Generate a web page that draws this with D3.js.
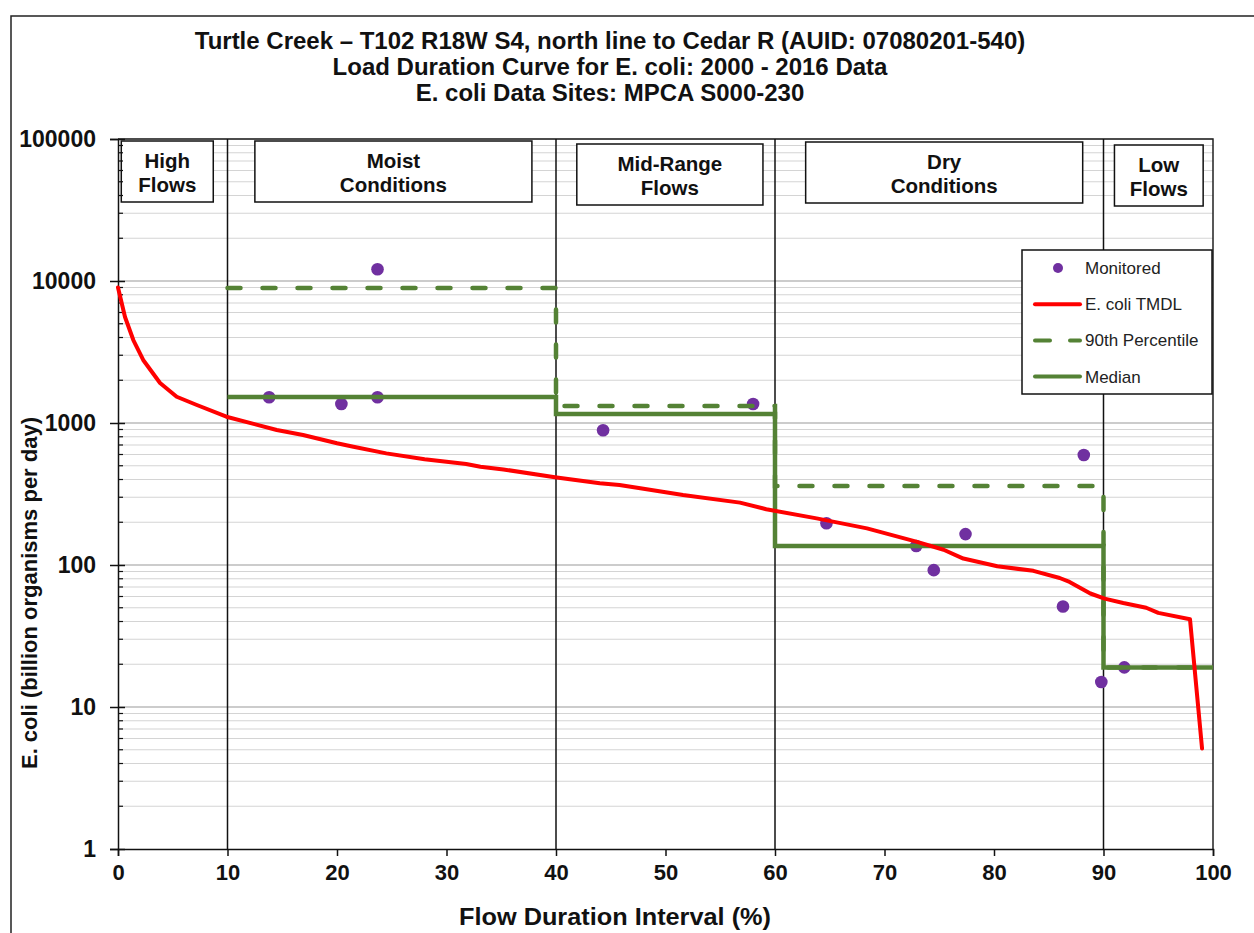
<!DOCTYPE html>
<html>
<head>
<meta charset="utf-8">
<script src="https://cdn.jsdelivr.net/npm/d3@7"></script>
<style>
  body { margin: 0; background: #fff; }
  svg { display: block; font-family: "Liberation Sans", Arial, sans-serif; }
</style>
</head>
<body>
<div id="chart"></div>
<script>
// chart text
const titleLines = [
  'Turtle Creek \u2013 T102 R18W S4, north line to Cedar R (AUID: 07080201-540)',
  'Load Duration Curve for E. coli: 2000 - 2016 Data',
  'E. coli Data Sites: MPCA S000-230'
];
const xLabel = 'Flow Duration Interval (%)';
const yLabel = 'E. coli (billion organisms per day)';
const xTickValues = [0, 10, 20, 30, 40, 50, 60, 70, 80, 90, 100];
const yTickValues = [1, 10, 100, 1000, 10000, 100000];

// flow zones
const zoneBreaks = [10, 40, 60, 90];
const zoneNames = [['High', 'Flows'], ['Moist', 'Conditions'], ['Mid-Range', 'Flows'], ['Dry', 'Conditions'], ['Low', 'Flows']];

// monitored samples
const monitoredX = [13.8, 20.4, 23.7, 23.7, 44.3, 58.0, 64.7, 72.9, 74.5, 77.4, 86.3, 88.2, 89.8, 91.9];
const monitoredY = [1520, 1360, 12100, 1520, 890, 1360, 197, 136, 92, 165, 51, 595, 15, 19];

// TMDL curve
const tmdlX = [0, 0.64, 1.4, 2.3, 3.84, 5.36, 7.2, 9.9, 14.5, 16.9, 20, 21.5, 24.5, 28, 31.8, 33.1, 35.2, 39.9,
  44.0, 45.8, 47.7, 51.6, 56.8, 59.2, 63.8, 68.4, 72.9, 75.4, 77.2, 80.3, 83.6, 86.0, 86.9, 88.8, 90.1, 91.8,
  93.9, 95.0, 97.9, 99.0];
const tmdlY = [9000, 5575, 3840, 2780, 1914, 1531, 1339, 1107, 893, 823, 720, 681, 611, 556, 514, 492, 471, 415,
  376, 366, 347, 311, 275, 247, 213, 181, 146, 128, 111, 98, 91, 81, 76, 63, 58, 54,
  50, 46, 41.5, 5.1];

// zone statistics (zones from 10 to 100)
const statStart = [10, 40, 60, 90, 100];
const pct90Values = [8930, 1318, 360, 19, 19];
const medianValues = [1524, 1157, 136, 19, 19];

const W = 1254, H = 933;
const margin = { top: 139, right: 41, bottom: 84, left: 118 };
const green = '#548235', purple = '#7030A0', red = '#FF0000';

const svg = d3.select('#chart').append('svg')
  .attr('width', W)
  .attr('height', H);

// outer chart frame
svg.append('rect')
  .attr('x', 11).attr('y', 16)
  .attr('width', W + 20).attr('height', H + 20)
  .attr('fill', '#fff')
  .attr('stroke', '#222')
  .attr('stroke-width', 1.5);

const x = d3.scaleLinear().domain([0, 100]).range([margin.left, W - margin.right]);
const y = d3.scaleLog().domain([1, 100000]).range([H - margin.bottom, margin.top]);

// title
svg.append('g').selectAll('text')
  .data(titleLines)
  .join('text')
  .attr('x', 610)
  .attr('y', (d, i) => 49 + i * 26)
  .attr('text-anchor', 'middle')
  .attr('font-size', 24)
  .attr('font-weight', 'bold')
  .attr('fill', '#111')
  .text(d => d);

// gridlines
const gridVals = [];
for (let n = 0; n < 5; n++) {
  for (let k = 1; k < 10; k++) gridVals.push({ v: k * Math.pow(10, n), major: k === 1 });
}
gridVals.push({ v: 100000, major: true });

svg.append('g').selectAll('line')
  .data(gridVals.filter(d => d.v > 1))
  .join('line')
  .attr('x1', x(0)).attr('x2', x(100))
  .attr('y1', d => y(d.v)).attr('y2', d => y(d.v))
  .attr('stroke', d => d.major ? '#9a9a9a' : '#d4d4d4')
  .attr('stroke-width', 1.2);

// plot top and right border
svg.append('path')
  .attr('d', `M${x(0)},${y(100000)}H${x(100)}V${y(1)}`)
  .attr('fill', 'none')
  .attr('stroke', '#222')
  .attr('stroke-width', 1.5);

// zone dividers
svg.append('g').selectAll('line')
  .data(zoneBreaks)
  .join('line')
  .attr('x1', d => x(d)).attr('x2', d => x(d))
  .attr('y1', y(100000)).attr('y2', y(1))
  .attr('stroke', '#111')
  .attr('stroke-width', 1.5);

// zone label boxes (x extent in flow-interval units)
const zoneBoxX = [[0.3, 8.7], [12.5, 37.8], [41.9, 58.9], [62.8, 88.1], [91.0, 99.1]];
const zoneBoxY = [[141, 202], [141, 202], [144, 205], [142, 203], [145, 206]];
const zg = svg.append('g').selectAll('g')
  .data(zoneNames)
  .join('g');
zg.append('rect')
  .attr('x', (d, i) => x(zoneBoxX[i][0]))
  .attr('y', (d, i) => zoneBoxY[i][0])
  .attr('width', (d, i) => x(zoneBoxX[i][1]) - x(zoneBoxX[i][0]))
  .attr('height', (d, i) => zoneBoxY[i][1] - zoneBoxY[i][0])
  .attr('fill', '#fff')
  .attr('stroke', '#111')
  .attr('stroke-width', 1.5);
zg.each(function (d, i) {
  const cx = (x(zoneBoxX[i][0]) + x(zoneBoxX[i][1])) / 2;
  const cy = (zoneBoxY[i][0] + zoneBoxY[i][1]) / 2;
  d3.select(this).selectAll('text')
    .data(d)
    .join('text')
    .attr('x', cx)
    .attr('y', (t, j) => cy - 4 + j * 24)
    .attr('text-anchor', 'middle')
    .attr('font-size', 20.5)
    .attr('font-weight', 'bold')
    .attr('fill', '#111')
    .text(t => t);
});

// axes
const xAxis = svg.append('g')
  .attr('transform', `translate(0,${y(1)})`)
  .call(d3.axisBottom(x).tickValues(xTickValues).tickSize(7).tickPadding(8).tickFormat(d3.format('d')));
xAxis.select('.domain').attr('stroke', '#111').attr('stroke-width', 1.5);
xAxis.selectAll('.tick line').attr('stroke', '#111').attr('stroke-width', 1.5);
xAxis.selectAll('.tick text')
  .attr('font-size', 22).attr('font-weight', 'bold').attr('fill', '#111')
  .attr('font-family', '"Liberation Sans", Arial, sans-serif');

const yAxis = svg.append('g')
  .attr('transform', `translate(${x(0)},0)`)
  .call(d3.axisLeft(y).tickValues(yTickValues).tickSize(8).tickPadding(14).tickFormat(d3.format('d')));
yAxis.select('.domain').attr('stroke', '#111').attr('stroke-width', 1.5);
yAxis.selectAll('.tick line').attr('x2', 7).attr('x1', -8).attr('stroke', '#111').attr('stroke-width', 1.5);
yAxis.selectAll('.tick text')
  .attr('font-size', 23).attr('font-weight', 'bold').attr('fill', '#111')
  .attr('font-family', '"Liberation Sans", Arial, sans-serif');

// minor y ticks on the inside of the axis
svg.append('g').selectAll('line')
  .data(gridVals.filter(d => !d.major))
  .join('line')
  .attr('x1', x(0)).attr('x2', x(0) + 5)
  .attr('y1', d => y(d.v)).attr('y2', d => y(d.v))
  .attr('stroke', '#111')
  .attr('stroke-width', 1.2);

// axis titles
svg.append('text')
  .attr('x', 459).attr('y', 925)
  .attr('font-size', 23).attr('font-weight', 'bold')
  .attr('textLength', 312).attr('lengthAdjust', 'spacingAndGlyphs')
  .attr('fill', '#111')
  .text(xLabel);
svg.append('text')
  .attr('transform', 'translate(37,593) rotate(-90)')
  .attr('text-anchor', 'middle')
  .attr('font-size', 22).attr('font-weight', 'bold')
  .attr('fill', '#111')
  .text(yLabel);

// monitored points
svg.append('g').selectAll('circle')
  .data(monitoredX.map((v, i) => [v, monitoredY[i]]))
  .join('circle')
  .attr('cx', d => x(d[0]))
  .attr('cy', d => y(d[1]))
  .attr('r', 6.3)
  .attr('fill', purple);

// 90th percentile and median step lines
const step = d3.line().x(d => x(d[0])).y(d => y(d[1])).curve(d3.curveStepAfter);
svg.append('path')
  .attr('d', step(statStart.map((v, i) => [v, pct90Values[i]])))
  .attr('fill', 'none')
  .attr('stroke', green)
  .attr('stroke-width', 4.5)
  .attr('stroke-linecap', 'round')
  .attr('stroke-dasharray', '13,22');
svg.append('path')
  .attr('d', step(statStart.map((v, i) => [v, medianValues[i]])))
  .attr('fill', 'none')
  .attr('stroke', green)
  .attr('stroke-width', 4.5);

// TMDL curve
const line = d3.line().x(d => x(d[0])).y(d => y(d[1]));
svg.append('path')
  .attr('d', line(tmdlX.map((v, i) => [v, tmdlY[i]])))
  .attr('fill', 'none')
  .attr('stroke', red)
  .attr('stroke-width', 4)
  .attr('stroke-linejoin', 'round')
  .attr('stroke-linecap', 'round');

// legend
const legend = svg.append('g');
legend.append('rect')
  .attr('x', 1022).attr('y', 250)
  .attr('width', 190).attr('height', 144)
  .attr('fill', '#fff')
  .attr('stroke', '#111')
  .attr('stroke-width', 1.5);
const legendItems = [
  { label: 'Monitored', type: 'dot' },
  { label: 'E. coli TMDL', type: 'line', color: red, dash: null },
  { label: '90th Percentile', type: 'line', color: green, dash: '15,20' },
  { label: 'Median', type: 'line', color: green, dash: null }
];
legendItems.forEach((d, i) => {
  const ly = 268 + i * 36.2;
  if (d.type === 'dot') {
    legend.append('circle').attr('cx', 1058).attr('cy', ly).attr('r', 5).attr('fill', purple);
  } else {
    legend.append('line')
      .attr('x1', 1035).attr('x2', 1080)
      .attr('y1', ly).attr('y2', ly)
      .attr('stroke', d.color)
      .attr('stroke-width', 4)
      .attr('stroke-linecap', 'round')
      .attr('stroke-dasharray', d.dash);
  }
  legend.append('text')
    .attr('x', 1085).attr('y', ly + 6)
    .attr('font-size', 17)
    .attr('fill', '#222')
    .text(d.label);
});
</script>
</body>
</html>
